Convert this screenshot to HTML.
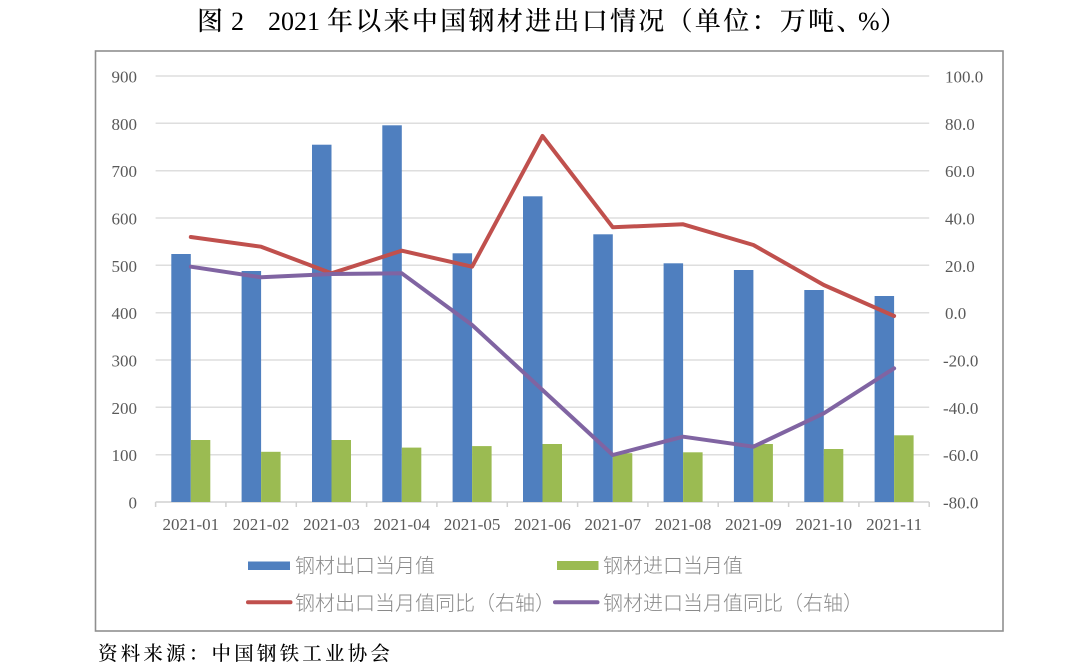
<!DOCTYPE html>
<html>
<head>
<meta charset="utf-8">
<style>
  html, body { margin: 0; padding: 0; background: #ffffff; }
  body { width: 1080px; height: 670px; overflow: hidden; }
  svg { display: block; }
  .tick { font-family: "Liberation Serif", serif; font-size: 17px; fill: #595959; }
  .leg { font-family: "Liberation Sans", "Noto Sans CJK SC", sans-serif; font-size: 20px; fill: #8a8a8a; font-weight: 300; }
  .title { font-family: "Liberation Serif", "Noto Serif CJK SC", serif; font-size: 26px; fill: #000; font-weight: 500; }
  .src { font-family: "Liberation Serif", "Noto Serif CJK SC", serif; font-size: 19.5px; fill: #000; font-weight: 500; }
</style>
</head>
<body>
<svg width="1080" height="670" viewBox="0 0 1080 670" xmlns="http://www.w3.org/2000/svg">
  <rect x="0" y="0" width="1080" height="670" fill="#ffffff"/>

  <!-- Title -->
  <text class="title" y="30">
    <tspan x="197">图</tspan>
    <tspan x="231" font-family="Liberation Serif, serif" font-weight="400">2</tspan>
    <tspan x="268" font-family="Liberation Serif, serif" font-weight="400">2021</tspan>
  </text>
  <text class="title" y="30" x="327 355.3 383.6 411.9 440.2 468.5 496.8 525.1 553.4 581.7 610 638.3 666.6 694.9 723.2 751.5 779.8 808.1 836.4">年以来中国钢材进出口情况（单位：万吨、</text>
  <text class="title" y="30" x="858" font-family="Liberation Serif, serif" font-weight="400">%</text>
  <text class="title" y="30" x="880">）</text>

  <!-- Frame -->
  <rect x="95.5" y="51" width="907.5" height="580" fill="none" stroke="#8f8f8f" stroke-width="1.6"/>

  <!-- Gridlines -->
  <g stroke="#dedede" stroke-width="1.5">
    <line x1="155.6" x2="929.2" y1="76" y2="76"/>
    <line x1="155.6" x2="929.2" y1="123.3" y2="123.3"/>
    <line x1="155.6" x2="929.2" y1="170.7" y2="170.7"/>
    <line x1="155.6" x2="929.2" y1="218" y2="218"/>
    <line x1="155.6" x2="929.2" y1="265.3" y2="265.3"/>
    <line x1="155.6" x2="929.2" y1="312.7" y2="312.7"/>
    <line x1="155.6" x2="929.2" y1="360" y2="360"/>
    <line x1="155.6" x2="929.2" y1="407.3" y2="407.3"/>
    <line x1="155.6" x2="929.2" y1="454.7" y2="454.7"/>
  </g>
  <!-- Category axis -->
  <g stroke="#d0d0d0" stroke-width="1.5">
    <line x1="155.6" x2="929.2" y1="502" y2="502"/>
    <line x1="155.6" x2="155.6" y1="502" y2="507"/>
    <line x1="225.9" x2="225.9" y1="502" y2="507"/>
    <line x1="296.3" x2="296.3" y1="502" y2="507"/>
    <line x1="366.6" x2="366.6" y1="502" y2="507"/>
    <line x1="436.9" x2="436.9" y1="502" y2="507"/>
    <line x1="507.3" x2="507.3" y1="502" y2="507"/>
    <line x1="577.6" x2="577.6" y1="502" y2="507"/>
    <line x1="647.9" x2="647.9" y1="502" y2="507"/>
    <line x1="718.2" x2="718.2" y1="502" y2="507"/>
    <line x1="788.6" x2="788.6" y1="502" y2="507"/>
    <line x1="858.9" x2="858.9" y1="502" y2="507"/>
    <line x1="929.2" x2="929.2" y1="502" y2="507"/>
  </g>

  <!-- Left axis labels -->
  <g class="tick" text-anchor="end">
    <text x="137" y="82.5">900</text>
    <text x="137" y="129.8">800</text>
    <text x="137" y="177.2">700</text>
    <text x="137" y="224.5">600</text>
    <text x="137" y="271.8">500</text>
    <text x="137" y="319.2">400</text>
    <text x="137" y="366.5">300</text>
    <text x="137" y="413.8">200</text>
    <text x="137" y="461.2">100</text>
    <text x="137" y="508.5">0</text>
  </g>
  <!-- Right axis labels -->
  <g class="tick" text-anchor="start">
    <text x="945" y="82.5">100.0</text>
    <text x="945" y="129.8">80.0</text>
    <text x="945" y="177.2">60.0</text>
    <text x="945" y="224.5">40.0</text>
    <text x="945" y="271.8">20.0</text>
    <text x="945" y="319.2">0.0</text>
    <text x="943" y="366.5">-20.0</text>
    <text x="943" y="413.8">-40.0</text>
    <text x="943" y="461.2">-60.0</text>
    <text x="943" y="508.5">-80.0</text>
  </g>

  <!-- Category labels -->
  <g class="tick" text-anchor="middle">
    <text x="190.8" y="530">2021-01</text>
    <text x="261.1" y="530">2021-02</text>
    <text x="331.5" y="530">2021-03</text>
    <text x="401.8" y="530">2021-04</text>
    <text x="472.1" y="530">2021-05</text>
    <text x="542.5" y="530">2021-06</text>
    <text x="612.8" y="530">2021-07</text>
    <text x="683.1" y="530">2021-08</text>
    <text x="753.4" y="530">2021-09</text>
    <text x="823.8" y="530">2021-10</text>
    <text x="894.1" y="530">2021-11</text>
  </g>

  <!-- Export bars (blue) -->
  <g fill="#4f7fbf">
    <rect x="171.3" y="254" width="19.5" height="248"/>
    <rect x="241.6" y="271" width="19.5" height="231"/>
    <rect x="312.0" y="144.7" width="19.5" height="357.3"/>
    <rect x="382.3" y="125.3" width="19.5" height="376.7"/>
    <rect x="452.6" y="253.3" width="19.5" height="248.7"/>
    <rect x="523.0" y="196.3" width="19.5" height="305.7"/>
    <rect x="593.3" y="234.3" width="19.5" height="267.7"/>
    <rect x="663.6" y="263.3" width="19.5" height="238.7"/>
    <rect x="733.9" y="270" width="19.5" height="232"/>
    <rect x="804.3" y="290" width="19.5" height="212"/>
    <rect x="874.6" y="296" width="19.5" height="206"/>
  </g>
  <!-- Import bars (green) -->
  <g fill="#9bbb52">
    <rect x="190.8" y="440" width="19.5" height="62"/>
    <rect x="261.1" y="451.8" width="19.5" height="50.2"/>
    <rect x="331.5" y="440" width="19.5" height="62"/>
    <rect x="401.8" y="447.6" width="19.5" height="54.4"/>
    <rect x="472.1" y="446.1" width="19.5" height="55.9"/>
    <rect x="542.5" y="444" width="19.5" height="58"/>
    <rect x="612.8" y="453.2" width="19.5" height="48.8"/>
    <rect x="683.1" y="452.3" width="19.5" height="49.7"/>
    <rect x="753.4" y="444" width="19.5" height="58"/>
    <rect x="823.8" y="449" width="19.5" height="53"/>
    <rect x="894.1" y="435.3" width="19.5" height="66.7"/>
  </g>

  <!-- Red line: export YoY -->
  <polyline fill="none" stroke="#c0504d" stroke-width="4" stroke-linejoin="round" stroke-linecap="round"
    points="190.8,237 261.1,246.7 331.5,273.3 401.8,250.7 472.1,266.7 542.5,136 612.8,227.3 683.1,224.3 753.4,245 823.8,285 894.1,316"/>
  <!-- Purple line: import YoY -->
  <polyline fill="none" stroke="#8064a2" stroke-width="4" stroke-linejoin="round" stroke-linecap="round"
    points="190.8,266.7 261.1,277.3 331.5,274 401.8,273.3 472.1,325 542.5,390 612.8,455 683.1,436.7 753.4,446.7 823.8,413.3 894.1,368.3"/>

  <!-- Legend -->
  <rect x="248" y="561.5" width="42" height="8.5" fill="#4f7fbf"/>
  <text class="leg" x="295" y="572.5">钢材出口当月值</text>
  <rect x="557" y="561" width="41.5" height="9" fill="#9bbb52"/>
  <text class="leg" x="603" y="572.5">钢材进口当月值</text>

  <line x1="248" x2="290.5" y1="602.3" y2="602.3" stroke="#c0504d" stroke-width="4" stroke-linecap="round"/>
  <text class="leg" x="295" y="610">钢材出口当月值同比（右轴）</text>
  <line x1="555" x2="597.5" y1="602.3" y2="602.3" stroke="#8064a2" stroke-width="4" stroke-linecap="round"/>
  <text class="leg" x="603" y="610">钢材进口当月值同比（右轴）</text>

  <!-- Source -->
  <text class="src" y="660" x="98 120.7 143.4 166.1 188.8 211.5 234.2 256.9 279.6 302.3 325 347.7 370.4">资料来源：中国钢铁工业协会</text>
</svg>
</body>
</html>
